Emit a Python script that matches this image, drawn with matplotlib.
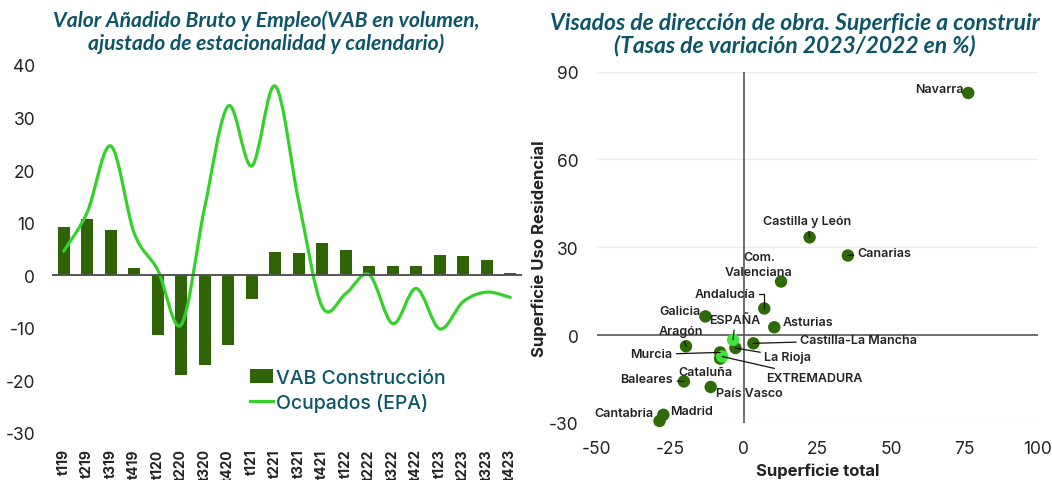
import matplotlib
matplotlib.use("Agg")
import matplotlib.pyplot as plt
from matplotlib.path import Path
from matplotlib.patches import PathPatch
import numpy as np

# ---------------- data ----------------
quarters = ['t119', 't219', 't319', 't419', 't120', 't220', 't320', 't420',
            't121', 't221', 't321', 't421', 't122', 't222', 't322', 't422',
            't123', 't223', 't323', 't423']
vab_construccion = [9.1, 10.8, 8.7, 1.4, -11.4, -18.9, -17.1, -13.3, -4.6, 4.4,
                    4.2, 6.1, 4.8, 1.8, 1.8, 1.8, 3.8, 3.6, 2.9, 0.4]
ocupados_epa = [4.6, 12.0, 24.6, 8.0, 1.0, -9.4, 13.0, 32.2, 20.8, 36.0,
                14.0, -6.0, -3.5, 0.1, -9.2, -2.5, -10.2, -5.0, -3.2, -4.2]

regions = ['Navarra', 'Castilla y León', 'Canarias', 'Com.\nValenciana', 'Andalucía',
           'Galicia', 'Asturias', 'ESPAÑA', 'Castilla-La Mancha', 'La Rioja', 'Aragón',
           'Murcia', 'Cataluña', 'EXTREMADURA', 'Baleares', 'País Vasco', 'Madrid',
           'Cantabria']
sup_total = [76.3, 22.4, 35.4, 12.7, 7.0, -13.0, 10.4, -3.6, 3.3, -2.8, -19.6,
             -8.0, -8.0, -7.3, -20.3, -11.2, -27.3, -28.6]
sup_residencial = [82.7, 33.4, 27.2, 18.3, 9.1, 6.4, 2.7, -1.6, -2.8, -4.4, -3.8,
                   -5.9, -8.0, -7.3, -15.8, -17.7, -27.2, -29.3]
highlighted = ['ESPAÑA', 'EXTREMADURA']

# ---------------- styles ----------------
TITLE_C = '#0e5468'
BAR_C = '#2e6405'
LINE_C = '#35d12b'
DOT_C = '#2e6a06'
HL_C = '#3ee43a'
TXT_C = '#222222'
FONT = ['Inter', 'DejaVu Sans']

plt.rcParams['font.family'] = FONT
plt.rcParams['axes.unicode_minus'] = False

fig = plt.figure(figsize=(10.52, 4.81), dpi=100)

# ---------------- left chart ----------------
ax1 = fig.add_axes([52 / 1052, 1 - 434 / 481, 470 / 1052, 368 / 481])
x = np.arange(len(quarters))
bars = ax1.bar(x, vab_construccion, width=0.52, color=BAR_C, zorder=2,
               label='VAB Construcción')

# smooth (Catmull-Rom style) line through the points, drawn in data coords
pts = np.column_stack([x, ocupados_epa]).astype(float)
ext = np.vstack([pts[0], pts, pts[-1]])
verts = [tuple(pts[0])]
codes = [Path.MOVETO]
for i in range(1, len(ext) - 2):
    p0, p1, p2, p3 = ext[i - 1], ext[i], ext[i + 1], ext[i + 2]
    c1 = p1 + (p2 - p0) / 6.0
    c2 = p2 - (p3 - p1) / 6.0
    verts += [tuple(c1), tuple(c2), tuple(p2)]
    codes += [Path.CURVE4] * 3
ax1.add_patch(PathPatch(Path(verts, codes), facecolor='none', edgecolor=LINE_C,
                        lw=2.3, zorder=3, capstyle='round'))
line_handle, = ax1.plot([], [], color=LINE_C, lw=2.3, label='Ocupados (EPA)')

ax1.axhline(0, color='#555555', lw=1.4, zorder=4)
ax1.set_xlim(-0.5, len(quarters) - 0.5)
ax1.set_ylim(-30, 40)
ax1.set_yticks(range(-30, 41, 10))
ax1.set_xticks(x)
ax1.set_xticklabels(quarters, rotation=90, fontsize=10, fontweight='bold',
                    color=TXT_C, va='top')
ax1.tick_params(axis='both', length=0)
ax1.tick_params(axis='y', labelsize=12.5, labelcolor=TXT_C, pad=12)
ax1.tick_params(axis='x', pad=11)
for s in ax1.spines.values():
    s.set_visible(False)
leg = ax1.legend([bars, line_handle], ['VAB Construcción', 'Ocupados (EPA)'],
                 loc='upper left', bbox_to_anchor=(0.405, 0.195), frameon=False,
                 prop={'size': 14, 'weight': 'medium'}, handlelength=1.2,
                 handletextpad=0.15, labelspacing=0.3, borderaxespad=0)
for t in leg.get_texts():
    t.set_color(TITLE_C)

fig.text(266 / 1052, 1 - 32 / 481,
         'Valor Añadido Bruto y Empleo(VAB en volumen,\najustado de estacionalidad y calendario)',
         ha='center', va='center', fontsize=15.2, fontweight='bold', style='italic',
         color=TITLE_C, family=['Lato', 'DejaVu Sans'], linespacing=1.12)

# ---------------- right chart ----------------
ax2 = fig.add_axes([596.5 / 1052, 1 - 424 / 481, 441.5 / 1052, 351.4 / 481])
ax2.set_xlim(-50, 100)
ax2.set_ylim(-30, 90)
ax2.set_xticks([-50, -25, 0, 25, 50, 75, 100])
ax2.set_yticks([-30, 0, 30, 60, 90])
for yv in [-30, 30, 60, 90]:
    ax2.axhline(yv, color='#ececec', lw=1.0, zorder=0)
ax2.axhline(0, color='#555555', lw=1.2, zorder=1)
ax2.axvline(0, color='#555555', lw=1.2, zorder=1)
for s in ax2.spines.values():
    s.set_visible(False)
ax2.tick_params(axis='both', length=0, labelsize=12.5, labelcolor=TXT_C)
ax2.tick_params(axis='y', pad=13)
ax2.tick_params(axis='x', pad=12)
ax2.set_xlabel('Superficie total', fontsize=12, fontweight='bold', color=TXT_C,
               labelpad=4)
ax2.set_ylabel('Superficie Uso Residencial', fontsize=12, fontweight='bold',
               color=TXT_C, labelpad=1)

colors = [HL_C if r in highlighted else DOT_C for r in regions]
order = [i for i in range(len(regions)) if regions[i] not in highlighted] + \
        [i for i in range(len(regions)) if regions[i] in highlighted]
ax2.scatter([sup_total[i] for i in order], [sup_residencial[i] for i in order],
            s=80, c=[colors[i] for i in order], zorder=3, linewidths=0,
            clip_on=False)

# label placement: (dx, dy) in pixels, horizontal alignment, leader type
label_pos = {
    'Navarra': (-5, 4, 'right', False),
    'Castilla y León': (-2, 16, 'center', True),
    'Canarias': (10, 2, 'left', True),
    'Com.\nValenciana': (-22, 17, 'center', False),
    'Andalucía': (-9, 15, 'right', 'elbow'),
    'Galicia': (-5, 5, 'right', False),
    'Asturias': (8, 5, 'left', False),
    'ESPAÑA': (2, 20, 'center', True),
    'Castilla-La Mancha': (47, 3, 'left', True),
    'La Rioja': (29, -9, 'left', True),
    'Aragón': (-5, 15, 'center', True),
    'Murcia': (-48, -2, 'right', True),
    'Cataluña': (-15, -13, 'center', False),
    'EXTREMADURA': (44, -21, 'left', True),
    'Baleares': (-11, 2, 'right', True),
    'País Vasco': (5, -6, 'left', False),
    'Madrid': (7, 4, 'left', False),
    'Cantabria': (-6, 8, 'right', False),
}
for r, xv, yv in zip(regions, sup_total, sup_residencial):
    dx, dy, ha, leader = label_pos[r]
    ap = None
    if leader == 'elbow':
        ap = dict(arrowstyle='-', color='#111111', lw=0.9, shrinkA=1, shrinkB=0,
                  connectionstyle='angle,angleA=0,angleB=90,rad=0')
    elif leader:
        ap = dict(arrowstyle='-', color='#111111', lw=0.9, shrinkA=1, shrinkB=0)
    ax2.annotate(r, (xv, yv), xytext=(dx, dy), textcoords='offset pixels',
                 ha=ha, va='center', fontsize=9, fontweight='semibold',
                 color=TXT_C, arrowprops=ap, zorder=4, linespacing=1.3)

fig.text(795 / 1052, 1 - 35 / 481,
         'Visados de dirección de obra. Superficie a construir\n(Tasas de variación 2023/2022 en %)',
         ha='center', va='center', fontsize=16.5, fontweight='bold', style='italic',
         color=TITLE_C, family=['Lato', 'DejaVu Sans'], linespacing=1.05)

fig.savefig('out.png', dpi=100)
